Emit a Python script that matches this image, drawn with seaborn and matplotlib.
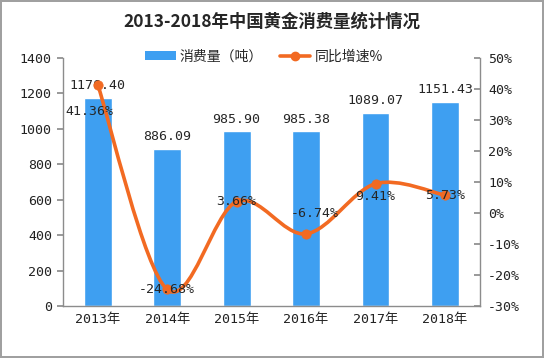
import seaborn as sns
import matplotlib.pyplot as plt
import pandas as pd
import numpy as np
from matplotlib.path import Path
from matplotlib.patches import PathPatch
from matplotlib.lines import Line2D
from matplotlib.patches import Patch
from matplotlib.ticker import FuncFormatter, FixedLocator

# Data
years = ['2013年', '2014年', '2015年', '2016年', '2017年', '2018年']
consumption = [1176.40, 886.09, 985.90, 985.38, 1089.07, 1151.43]
growth = [41.36, -24.68, 3.66, -6.74, 9.41, 5.73]

# offsets (points) for the growth labels
growth_offsets = [(-6, -19), (0, 0), (0, 0), (6, 15), (0, -9), (0, 0)]

BLUE = '#3E9FF1'
ORANGE = '#F26A22'
NUM_FONT = ['DejaVu Sans Mono', 'Noto Sans CJK SC']

sns.set_theme(style='white')
plt.rcParams['font.family'] = ['Noto Sans CJK SC', 'DejaVu Sans']

df = pd.DataFrame({'year': years, 'consumption': consumption, 'growth': growth})
df['pos'] = range(len(df))

fig = plt.figure(figsize=(5.44, 3.58), dpi=100)
fig.patch.set_edgecolor('#A0A0A0')
fig.patch.set_linewidth(1.5)
ax = fig.add_axes([0.1158, 0.1453, 0.766, 0.693])

sns.barplot(data=df, x='year', y='consumption', color=BLUE, width=0.4,
            saturation=1, ax=ax)
ax.set_xlim(-0.5, len(years) - 0.5)
ax.set_ylim(0, 1400)
ax.set_yticks(range(0, 1401, 200))
ax.set_xlabel('')
ax.set_ylabel('')
for i, v in enumerate(consumption):
    ax.annotate(f'{v:.2f}', (i, v), xytext=(0, 4), textcoords='offset points',
                ha='center', va='bottom', fontsize=9.5, family=NUM_FONT)

ax2 = ax.twinx()
ax2.set_ylim(-30, 50)
ax2.set_yticks(range(-30, 51, 10))
ax2.yaxis.set_major_formatter(FuncFormatter(lambda v, p: f'{v:.0f}%'))

# smooth curve through the growth points (Catmull-Rom as cubic Bezier)
pts = np.column_stack([df['pos'].to_numpy(dtype=float), df['growth'].to_numpy()])
verts = [tuple(pts[0])]
codes = [Path.MOVETO]
n = len(pts)
for i in range(n - 1):
    p0 = pts[i - 1] if i > 0 else pts[i]
    p1, p2 = pts[i], pts[i + 1]
    p3 = pts[i + 2] if i + 2 < n else pts[i + 1]
    c1 = p1 + (p2 - p0) / 6
    c2 = p2 - (p3 - p1) / 6
    verts += [tuple(c1), tuple(c2), tuple(p2)]
    codes += [Path.CURVE4] * 3
ax2.add_patch(PathPatch(Path(verts, codes), fill=False, edgecolor=ORANGE,
                        lw=2.6, capstyle='round', zorder=3))
sns.scatterplot(data=df, x='pos', y='growth', color=ORANGE, s=45,
                edgecolor=ORANGE, ax=ax2, zorder=4)
ax2.set_ylabel('')
for i, v in enumerate(growth):
    ax2.annotate(f'{v:.2f}%', (i, v), xytext=growth_offsets[i],
                 textcoords='offset points', ha='center', va='center',
                 fontsize=9.5, family=NUM_FONT, zorder=5)

for a in (ax, ax2):
    for s in a.spines.values():
        s.set_visible(False)
    a.tick_params(labelsize=10, colors='#222222', length=0)
ax.spines['left'].set_visible(True)
ax.spines['bottom'].set_visible(True)
ax2.spines['right'].set_visible(True)
for s in (ax.spines['left'], ax.spines['bottom'], ax2.spines['right']):
    s.set_color('#8C8C8C')
    s.set_linewidth(1.0)
ax.tick_params(axis='y', length=4, color='#8C8C8C', direction='out', pad=4)
ax2.tick_params(axis='y', length=4, color='#8C8C8C', direction='in', pad=6)
ax.xaxis.set_minor_locator(FixedLocator(np.arange(-0.5, len(years), 1.0)))
ax.tick_params(axis='x', which='minor', length=4, color='#8C8C8C', direction='out')
ax.tick_params(axis='x', which='major', pad=5)
for lab in ax.get_yticklabels() + ax2.get_yticklabels() + ax.get_xticklabels():
    lab.set_family(NUM_FONT)
    lab.set_fontsize(9.5)

fig.suptitle('2013-2018年中国黄金消费量统计情况', y=0.965, fontsize=12.5,
             fontweight='bold')

handles = [Patch(facecolor=BLUE, edgecolor='none'),
           Line2D([], [], color=ORANGE, lw=2.6, marker='o', markersize=6)]
fig.legend(handles, ['消费量（吨）', '同比增速%'], loc='center',
           bbox_to_anchor=(0.485, 0.842), ncol=2, frameon=False, fontsize=10,
           handlelength=2.2, handleheight=0.6, columnspacing=1.2,
           handletextpad=0.3)

fig.savefig('out.png', dpi=100)
